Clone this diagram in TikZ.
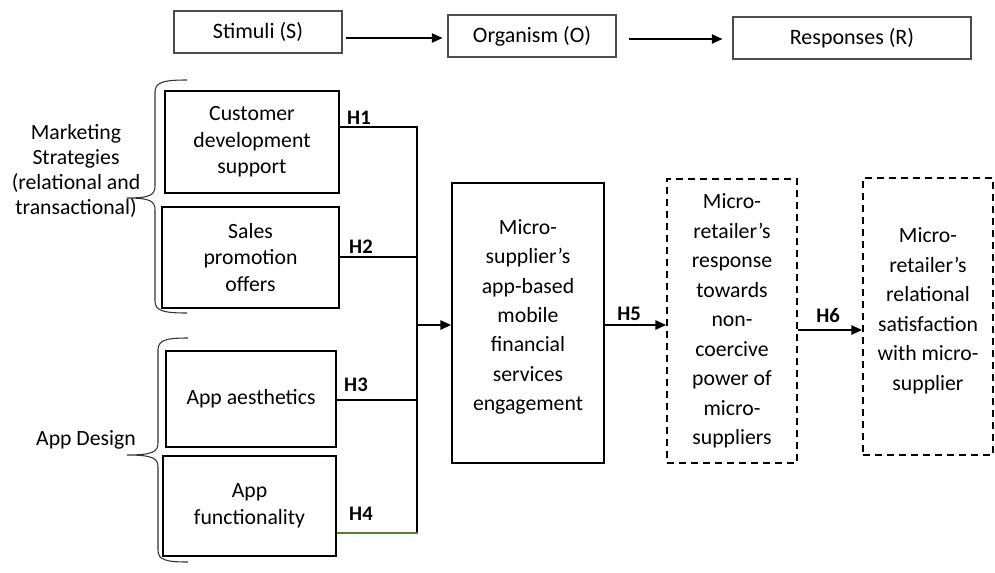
\documentclass[tikz,border=0pt]{standalone}
\usepackage{fontspec}
\setmainfont{Carlito}
\usetikzlibrary{arrows.meta,calc}

\definecolor{hgreen}{RGB}{84,130,53}

\tikzset{
  toptag/.style={draw=black!70, line width=0.8pt, inner sep=0pt, align=center,
    font=\fontsize{16.5}{20}\selectfont},
  srcbox/.style={draw=black, line width=1.4pt, inner sep=0pt, align=center,
    font=\fontsize{16.3}{19.9}\selectfont},
  midbox/.style={draw=black, line width=1.4pt, inner sep=0pt, align=center,
    font=\fontsize{16.3}{22}\selectfont, minimum width=114pt, minimum height=210pt},
  dashbox/.style={draw=black, line width=1.4pt, dash pattern=on 5.25pt off 3.75pt,
    inner sep=0pt, align=center, font=\fontsize{16.3}{22.1}\selectfont,
    minimum width=97.5pt},
  grouptag/.style={align=center, inner sep=0pt, font=\fontsize{16.3}{18.75}\selectfont},
  hlab/.style={font=\fontsize{15.5}{18}\selectfont\bfseries, inner sep=0pt, anchor=base},
  arr/.style={line width=1.2pt, -{Triangle[length=8pt,width=7pt]}},
  link/.style={line width=1.1pt},
  brace/.style={line width=0.8pt, black!80}
}

\begin{document}
\begin{tikzpicture}[x=0.75pt,y=-0.75pt]
\useasboundingbox (0,0) rectangle (995,572);

% S-O-R header
\node[toptag, minimum width=126pt, minimum height=31.5pt] (stim) at (258,32) {Stimuli (S)};
\node[toptag, minimum width=126pt, minimum height=31.5pt] (org) at (532,36) {Organism (O)};
\node[toptag, minimum width=178.5pt, minimum height=31.5pt] (resp) at (852,38) {Responses (R)};
\draw[arr] ($(stim.east)+(3,6)$) -- ($(org.west)+(-5,2)$);
\draw[arr] ($(org.east)+(12,3)$) -- ($(resp.west)+(-10,1)$);

% stimulus boxes
\node[srcbox, minimum width=130.5pt, minimum height=76.5pt] (cds) at (252,142)
  {Customer\\development\\support};
\node[srcbox, minimum width=132.75pt, minimum height=75.75pt] (spo) at (250.5,257.5)
  {Sales\\promotion\\offers};
\node[srcbox, minimum width=127.5pt, minimum height=72pt] (aes) at (251,399)
  {App aesthetics};
\node[srcbox, minimum width=129.75pt, minimum height=75pt] (fun) at (249.5,506)
  {App\\functionality};

% organism and responses (a short empty last line lifts the text a little)
\node[midbox] (eng) at (528,323)
  {Micro-\\supplier's\\app-based\\mobile\\financial\\services\\engagement\\[-10pt]};
\node[dashbox, minimum height=213pt] (nonco) at (732,321)
  {Micro-\\retailer's\\response\\towards\\non-\\coercive\\power of\\micro-\\suppliers};
\node[dashbox, minimum height=207.75pt] (sat) at (928,316.5)
  {Micro-\\retailer's\\relational\\satisfaction\\with micro-\\supplier\\[-10.85pt]};

% group braces
\draw[brace] (187,80) .. controls (164,80) and (155,82) .. (155,92) -- (155,186)
  .. controls (155,195) and (150,198) .. (127,198)
  .. controls (150,198) and (155,201) .. (155,210) -- (155,301)
  .. controls (155,311) and (164,313) .. (187,313);
\draw[brace] (188,338) .. controls (166,338) and (158,340) .. (158,350) -- (158,443)
  .. controls (158,452) and (152,455) .. (127,455)
  .. controls (152,455) and (158,458) .. (158,467) -- (158,550)
  .. controls (158,560) and (166,562) .. (188,562);
\node[grouptag] (mkt) at (76,170.5)
  {Marketing\\Strategies\\(relational and\\transactional)};
\node[grouptag] (appd) at (86,440) {App Design};

% collector line
\coordinate (jtop) at (417,127);
\coordinate (jmid) at (417,325);
\coordinate (jbot) at (417,533);
\draw[link] (jtop) -- (jbot);
\draw[line width=1.9pt] (cds.east |- jtop) -- ([xshift=0.5pt]jtop);
\draw[link] (spo.east |- 0,257) -- (jtop |- 0,257);
\draw[link] (aes.east |- 0,400) -- (jtop |- 0,400);
\draw[line width=1.9pt, hgreen] (fun.east |- jbot) -- ([xshift=0.5pt]jbot);
\draw[arr] (jmid) -- (eng.west |- jmid);
\draw[arr] (eng.east |- jmid) -- (nonco.west |- jmid);
\draw[arr] (nonco.east |- 0,330) -- (sat.west |- 0,330);

% hypothesis labels
\node[hlab] (h1) at (359,124) {H1};
\node[hlab] (h2) at (361,253) {H2};
\node[hlab] (h3) at (356,391) {H3};
\node[hlab] (h4) at (361,520) {H4};
\node[hlab] (h5) at (629,320) {H5};
\node[hlab] (h6) at (828,322) {H6};
\end{tikzpicture}
\end{document}
